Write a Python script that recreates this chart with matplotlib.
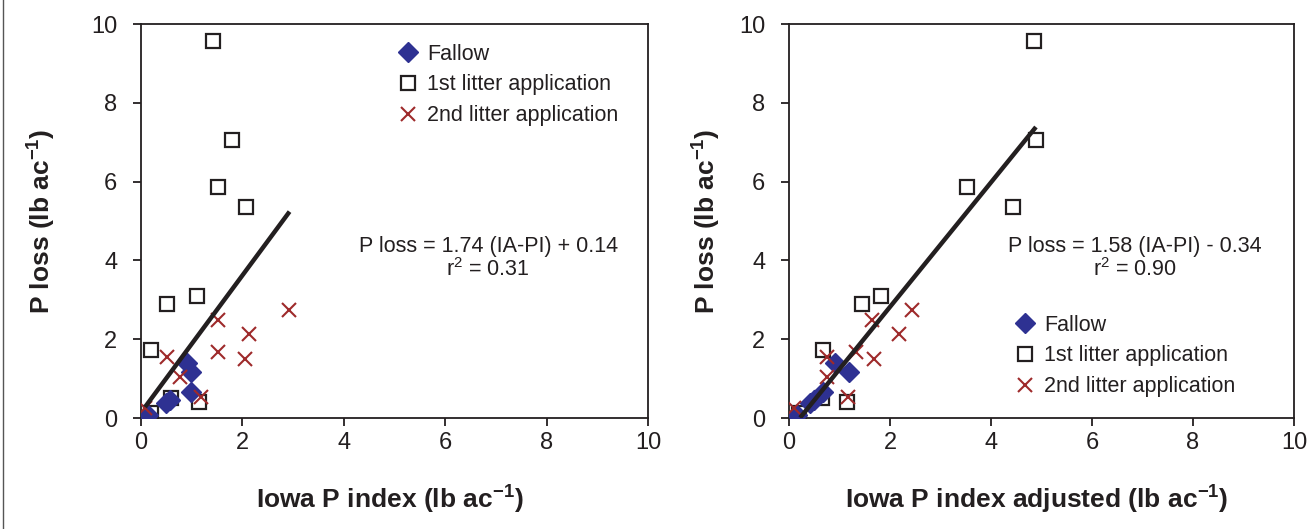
import matplotlib
matplotlib.use('Agg')
import matplotlib.pyplot as plt
from matplotlib.lines import Line2D

plt.rcParams['font.family'] = 'Liberation Sans'
plt.rcParams['mathtext.fontset'] = 'custom'
plt.rcParams['mathtext.rm'] = 'Liberation Sans'
plt.rcParams['mathtext.bf'] = 'Liberation Sans:bold'

# P loss values (lb/ac) for each group
fallow_y = [1.39, 1.18, 0.66, 0.46, 0.37, 0.08]
litter1_y = [9.56, 7.06, 5.87, 5.35, 3.10, 2.89, 1.73, 0.51, 0.40, 0.13]
litter2_y = [2.73, 2.50, 2.14, 1.67, 1.56, 1.49, 1.04, 0.53, 0.25]

# Iowa P index
fallow_x = [0.90, 0.98, 0.98, 0.57, 0.49, 0.14]
litter1_x = [1.42, 1.80, 1.51, 2.08, 1.10, 0.51, 0.19, 0.59, 1.14, 0.19]
litter2_x = [2.92, 1.51, 2.13, 1.51, 0.52, 2.05, 0.77, 1.18, 0.08]

# Iowa P index adjusted
fallow_xa = [0.92, 1.19, 0.68, 0.50, 0.42, 0.15]
litter1_xa = [4.85, 4.89, 3.52, 4.44, 1.82, 1.44, 0.68, 0.65, 1.14, 0.20]
litter2_xa = [2.43, 1.64, 2.18, 1.33, 0.76, 1.68, 0.76, 1.17, 0.10]

# regressions
fit1 = (1.74, 0.14)
fit1_range = [0.08, 2.93]
fit2 = (1.58, -0.34)
fit2_range = [0.22, 4.89]

blue = '#2e3192'
red = '#9e2a2b'
txt = '#231f20'

fig = plt.figure(figsize=(13.08, 5.29), dpi=100)
ax1 = fig.add_axes([0.1078, 0.2098, 0.3876, 0.7448])
ax2 = fig.add_axes([0.6032, 0.2098, 0.3861, 0.7448])

fig.add_artist(Line2D([3 / 1308, 3 / 1308], [0, 1], color='#555555', lw=1))


def draw(ax, fx, l1x, l2x, fit, rng, eq, r2, xlabel, leg_anchor, ylab_x):
    ax.plot(fx, fallow_y, 'D', color=blue, ms=10, mec=blue, label='Fallow', zorder=3)
    ax.plot(l1x, litter1_y, 's', mfc='white', mec=txt, mew=1.6, ms=10,
            label='1st litter application', zorder=2)
    ax.plot(l2x, litter2_y, 'x', color=red, mew=1.5, ms=10,
            label='2nd litter application', zorder=4)
    ax.plot(rng, [fit[0] * v + fit[1] for v in rng], color=txt, lw=3.2, zorder=5,
            solid_capstyle='butt')
    ax.set_xlim(0, 10)
    ax.set_ylim(0, 10)
    ax.set_xticks(range(0, 11, 2))
    ax.set_yticks(range(0, 11, 2))
    ax.tick_params(direction='out', length=6, width=1.3, labelsize=17,
                   colors=txt, pad=4)
    ax.tick_params(axis='y', pad=11)
    for s in ax.spines.values():
        s.set_linewidth(1.3)
        s.set_color(txt)
    ax.set_xlabel(xlabel, fontsize=19, fontweight='bold', color=txt)
    ax.set_ylabel(r'P loss (lb ac$^{\mathbf{-1}}$)', fontsize=19,
                  fontweight='bold', color=txt)
    ax.xaxis.set_label_coords(0.49, -0.163)
    ax.yaxis.set_label_coords(ylab_x, 0.5)
    ax.text(6.85, 4.36, eq, ha='center', va='center', fontsize=15.5, color=txt)
    ax.text(6.85, 3.77, r'r$^2$ = ' + r2,
            ha='center', va='center', fontsize=15.5, color=txt)
    ax.legend(loc='upper left', bbox_to_anchor=leg_anchor, frameon=False,
              fontsize=15.5, handlelength=1.0, handletextpad=0.4,
              labelspacing=0.45, borderpad=0, borderaxespad=0, numpoints=1,
              labelcolor=txt)


draw(ax1, fallow_x, litter1_x, litter2_x, fit1, fit1_range,
     'P loss = 1.74 (IA-PI) + 0.14', '0.31',
     r'Iowa P index (lb ac$^{\mathbf{-1}}$)', (0.505, 0.95), -0.165)
draw(ax2, fallow_xa, litter1_xa, litter2_xa, fit2, fit2_range,
     'P loss = 1.58 (IA-PI) - 0.34', '0.90',
     r'Iowa P index adjusted (lb ac$^{\mathbf{-1}}$)', (0.446, 0.262), -0.132)

fig.savefig('out.png', dpi=100)
